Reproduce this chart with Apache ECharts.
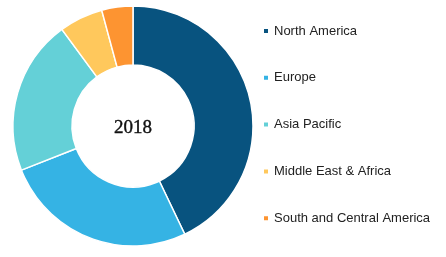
<!DOCTYPE html>
<html><head><meta charset="utf-8">
<script src="https://cdn.jsdelivr.net/npm/echarts@6/dist/echarts.min.js"></script>
<style>html,body{margin:0;padding:0;background:#fff}#c{width:446px;height:257px}</style>
</head><body><div id="c"></div>
<script>
const categories = ["North America", "Europe", "Asia Pacific", "Middle East & Africa", "South and Central America"];
const values = [42.9, 26.1, 20.9, 5.9, 4.2];
const colors = ["#08537f", "#35b3e4", "#64d0d7", "#ffc85c", "#fd9431"];
const centerLabel = "2018";

const chart = echarts.init(document.getElementById('c'), null, {renderer: 'canvas'});
chart.setOption({
  animation: false,
  color: colors,
  graphic: [{
    type: 'text', x: 133, y: 128,
    style: {text: centerLabel, textAlign: 'center', textVerticalAlign: 'middle',
      font: '19px "Liberation Serif"', fill: '#111', stroke: '#111', lineWidth: 0.4}
  }],
  legend: {
    orient: 'vertical',
    left: 262, top: 24, padding: 0,
    icon: 'rect', itemWidth: 6, itemHeight: 6,
    itemGap: 32.8,
    textStyle: {fontFamily: 'Liberation Sans', fontSize: 13, color: '#222', lineHeight: 14},
    data: categories
  },
  series: [{
    type: 'pie',
    center: [133, 126],
    radius: [61, 120],
    startAngle: 90,
    clockwise: true,
    label: {show: false},
    labelLine: {show: false},
    itemStyle: {borderColor: '#fff', borderWidth: 1.5},
    data: categories.map((c, i) => ({name: c, value: values[i]}))
  }]
});
</script></body></html>
